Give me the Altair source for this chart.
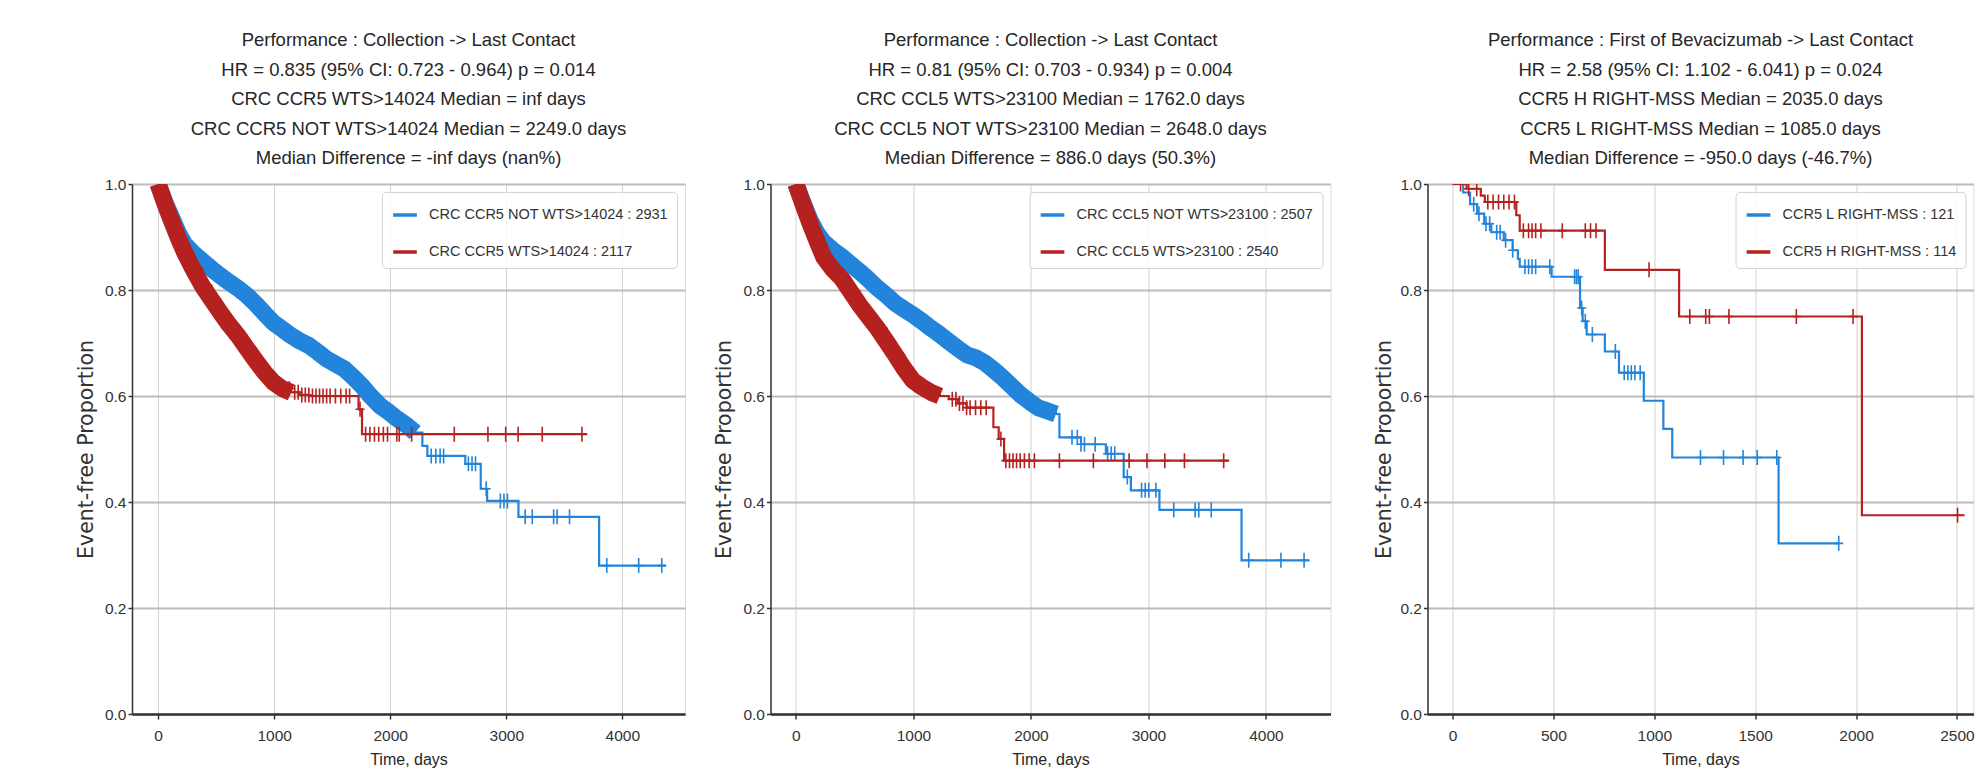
import altair as alt
import pandas as pd

BLUE = "#2284DA"
RED = "#B5211F"
SANS = "Liberation Sans"
YFONT = "DejaVu Sans"
TXT = "#262626"
PLUS = "M0,-1L0,1M-0.6,0L0.6,0"

# ---------------- Panel 1 ----------------
P1_TITLE = ["Performance : Collection -> Last Contact",
            "HR = 0.835 (95% CI: 0.723 - 0.964) p = 0.014",
            "CRC CCR5 WTS>14024 Median = inf days",
            "CRC CCR5 NOT WTS>14024 Median = 2249.0 days",
            "Median Difference = -inf days (nan%)"]
P1_BLUE_LABEL = "CRC CCR5 NOT WTS>14024 : 2931"
P1_RED_LABEL = "CRC CCR5 WTS>14024 : 2117"
P1_BLUE_T = [0, 60, 120, 180, 230, 300, 380, 460, 535, 610, 690, 765, 840, 920, 995, 1070, 1145, 1220,
             1300, 1375, 1450, 1530, 1605, 1680, 1757, 1830, 1910, 1985, 2060, 2140, 2215, 2277, 2320,
             2647, 2780, 2835, 3105, 3800, 4376]
P1_BLUE_S = [1.0, 0.965, 0.935, 0.905, 0.886, 0.87, 0.855, 0.84, 0.827, 0.815, 0.803, 0.79, 0.774, 0.755,
             0.738, 0.726, 0.714, 0.704, 0.695, 0.683, 0.67, 0.66, 0.651, 0.636, 0.619, 0.60, 0.582, 0.57,
             0.557, 0.545, 0.531, 0.506, 0.487, 0.472, 0.425, 0.402, 0.372, 0.28, 0.28]
P1_BLUE_BAND_END = 2250
P1_BLUE_CENS = [2353, 2393, 2430, 2460, 2674, 2705, 2735, 2827, 2949, 2980, 3010, 3163, 3224, 3408, 3438,
                3545, 3866, 4141, 4340]
P1_RED_T = [0, 60, 120, 180, 230, 300, 380, 460, 535, 610, 688, 765, 840, 915, 993, 1070, 1146, 1220,
            1300, 1727, 1757, 3698]
P1_RED_S = [1.0, 0.962, 0.928, 0.895, 0.87, 0.84, 0.808, 0.782, 0.758, 0.735, 0.714, 0.69, 0.667, 0.645,
            0.626, 0.614, 0.607, 0.602, 0.600, 0.575, 0.528, 0.528]
P1_RED_BAND_END = 1150
P1_RED_CENS = [1131, 1177, 1207, 1238, 1268, 1299, 1330, 1360, 1391, 1421, 1452, 1482, 1528, 1574, 1620,
               1650, 1740, 1788, 1825, 1864, 1901, 1941, 1977, 2057, 2078, 2185, 2552, 2842, 2995, 3102,
               3310, 3652]
P1_XDOM = [-225, 4540]
P1_XTICKS = [0, 1000, 2000, 3000, 4000]

# ---------------- Panel 2 ----------------
P2_TITLE = ["Performance : Collection -> Last Contact",
            "HR = 0.81 (95% CI: 0.703 - 0.934) p = 0.004",
            "CRC CCL5 WTS>23100 Median = 1762.0 days",
            "CRC CCL5 NOT WTS>23100 Median = 2648.0 days",
            "Median Difference = 886.0 days (50.3%)"]
P2_BLUE_LABEL = "CRC CCL5 NOT WTS>23100 : 2507"
P2_RED_LABEL = "CRC CCL5 WTS>23100 : 2540"
P2_BLUE_T = [0, 60, 120, 180, 237, 310, 389, 465, 541, 617, 693, 770, 845, 920, 997, 1073, 1149, 1225,
             1301, 1377, 1453, 1530, 1605, 1680, 1757, 1833, 1909, 1985, 2061, 2137, 2213, 2243, 2426,
             2638, 2790, 2851, 3094, 3793, 4371]
P2_BLUE_S = [1.0, 0.965, 0.932, 0.907, 0.89, 0.876, 0.863, 0.849, 0.835, 0.82, 0.804, 0.79, 0.775, 0.764,
             0.753, 0.741, 0.728, 0.716, 0.703, 0.69, 0.678, 0.672, 0.663, 0.65, 0.635, 0.619, 0.603, 0.59,
             0.578, 0.572, 0.566, 0.522, 0.509, 0.491, 0.447, 0.422, 0.385, 0.29, 0.29]
P2_BLUE_BAND_END = 2220
P2_BLUE_CENS = [2350, 2395, 2426, 2456, 2547, 2653, 2684, 2714, 2821, 2942, 2973, 3003, 3064, 3216, 3398,
                3429, 3535, 3854, 4128, 4325]
P2_RED_T = [0, 60, 120, 180, 237, 310, 389, 465, 541, 617, 693, 770, 845, 920, 997, 1073, 1149, 1225,
            1301, 1377, 1453, 1681, 1726, 1772, 3687]
P2_RED_S = [1.0, 0.962, 0.926, 0.892, 0.862, 0.84, 0.822, 0.797, 0.772, 0.75, 0.728, 0.703, 0.678, 0.652,
            0.629, 0.617, 0.607, 0.6, 0.594, 0.586, 0.578, 0.541, 0.519, 0.478, 0.478]
P2_RED_BAND_END = 1300
P2_RED_CENS = [1331, 1362, 1392, 1422, 1453, 1483, 1529, 1574, 1620, 1745, 1787, 1818, 1848, 1878, 1909,
               1945, 1985, 2030, 2243, 2532, 2836, 2988, 3140, 3307, 3641]
P2_XDOM = [-216, 4550]
P2_XTICKS = [0, 1000, 2000, 3000, 4000]

# ---------------- Panel 3 ----------------
P3_TITLE = ["Performance : First of Bevacizumab -> Last Contact",
            "HR = 2.58 (95% CI: 1.102 - 6.041) p = 0.024",
            "CCR5 H RIGHT-MSS Median = 2035.0 days",
            "CCR5 L RIGHT-MSS Median = 1085.0 days",
            "Median Difference = -950.0 days (-46.7%)"]
P3_BLUE_LABEL = "CCR5 L RIGHT-MSS : 121"
P3_RED_LABEL = "CCR5 H RIGHT-MSS : 114"
P3_BLUE_T = [0, 53, 87, 122, 157, 192, 254, 298, 324, 333, 491, 632, 645, 665, 755, 825, 948, 1045, 1089,
             1616, 1915]
P3_BLUE_S = [1.0, 0.984, 0.962, 0.944, 0.925, 0.909, 0.894, 0.875, 0.859, 0.844, 0.825, 0.766, 0.741,
             0.716, 0.684, 0.644, 0.591, 0.538, 0.484, 0.322, 0.322]
P3_BLUE_CENS = [105, 131, 166, 184, 219, 236, 263, 298, 359, 377, 394, 412, 482, 605, 614, 623, 640, 658,
                693, 807, 851, 869, 886, 904, 930, 1229, 1343, 1440, 1510, 1607, 1914]
P3_RED_T = [0, 70, 140, 160, 316, 333, 755, 1123, 2029, 2538]
P3_RED_S = [1.0, 0.991, 0.978, 0.966, 0.941, 0.912, 0.838, 0.75, 0.375, 0.375]
P3_RED_CENS = [40, 80, 120, 175, 201, 228, 254, 280, 307, 351, 377, 394, 412, 438, 544, 658, 684, 711, 974,
               1176, 1255, 1273, 1370, 1704, 1985, 2503]
P3_XDOM = [-124, 2582]
P3_XTICKS = [0, 500, 1000, 1500, 2000, 2500]

Y_TICKS = [0.0, 0.2, 0.4, 0.6, 0.8, 1.0]
PLOT_H = 530


def surv_at(ts, ss, t):
    v = ss[0]
    for ti, si in zip(ts, ss):
        if ti <= t:
            v = si
    return v


def panel(title, xdom, xticks, width, ytitle_x, blue, red):
    labels = [blue[0], red[0]]
    cscale = alt.Scale(domain=labels, range=[BLUE, RED])
    xenc = alt.X("t:Q", scale=alt.Scale(domain=xdom, nice=False, zero=False),
                 axis=alt.Axis(values=xticks, format="d", title="Time, days",
                               grid=True, gridColor="#d2d2d2", gridWidth=1,
                               domainColor="#333", domainWidth=2.5,
                               tickColor="#333", tickSize=5, tickWidth=1.5,
                               labelFont=SANS, labelFontSize=15.5, labelColor="#333", labelPadding=9,
                               titleFont=SANS, titleFontSize=16, titleFontWeight="normal",
                               titleColor=TXT, titlePadding=8))
    yenc = alt.Y("s:Q", scale=alt.Scale(domain=[0, 1], nice=False, zero=False),
                 axis=alt.Axis(values=Y_TICKS, format=".1f", title="Event-free Proportion",
                               grid=True, gridColor="#bcbcbc", gridWidth=2,
                               domainColor="#333", domainWidth=1.5,
                               tickColor="#333", tickSize=4, tickWidth=1.5,
                               labelFont=SANS, labelFontSize=15.5, labelColor="#333", labelPadding=2,
                               titleFont=YFONT, titleFontSize=20.5, titleFontWeight="normal",
                               titleColor="#333", titleX=ytitle_x, titleY=PLOT_H / 2,
                               titleAlign="center", titleBaseline="middle", titleAngle=270))
    layers = []
    for idx, (label, ts, ss, band_end, cens) in enumerate([blue, red]):
        steps = pd.DataFrame({"t": ts, "s": ss, "g": label})
        leg = None
        if idx == 0:
            leg = alt.Legend(orient="top-right", title=None, symbolType="stroke", symbolStrokeWidth=3.5,
                             symbolSize=560, labelFont=SANS, labelFontSize=14.5, labelColor="#333",
                             labelLimit=500, padding=9, rowPadding=16, offset=8, labelOffset=10,
                             fillColor="rgba(255,255,255,0.85)", strokeColor="#d4d4d4", cornerRadius=4)
        layers.append(alt.Chart(steps).mark_line(strokeWidth=2.2, interpolate="step-after", clip=True).encode(
            x=xenc, y=yenc, color=alt.Color("g:N", scale=cscale, legend=leg)))
        if band_end is not None:
            band = steps[steps["t"] <= band_end]
            layers.append(alt.Chart(band).mark_line(strokeWidth=17, strokeJoin="round", clip=True,
                                                    interpolate="linear").encode(
                x=xenc, y=yenc, color=alt.Color("g:N", scale=cscale, legend=None)))
        cdf = pd.DataFrame({"t": cens, "s": [surv_at(ts, ss, c) for c in cens], "g": label})
        layers.append(alt.Chart(cdf).mark_point(shape=PLUS, filled=False, size=225, strokeWidth=1.6,
                                                opacity=1, clip=True).encode(
            x=xenc, y=yenc, color=alt.Color("g:N", scale=cscale, legend=None)))
    return alt.layer(*layers).properties(
        width=width, height=PLOT_H,
        title=alt.TitleParams(text=title, font=SANS, fontSize=18.5, lineHeight=29.5, fontWeight="normal",
                              color=TXT, anchor="middle", offset=9.5))


p1 = panel(P1_TITLE, P1_XDOM, P1_XTICKS, 553, -46,
           (P1_BLUE_LABEL, P1_BLUE_T, P1_BLUE_S, P1_BLUE_BAND_END, P1_BLUE_CENS),
           (P1_RED_LABEL, P1_RED_T, P1_RED_S, P1_RED_BAND_END, P1_RED_CENS))
p2 = panel(P2_TITLE, P2_XDOM, P2_XTICKS, 560, -46,
           (P2_BLUE_LABEL, P2_BLUE_T, P2_BLUE_S, P2_BLUE_BAND_END, P2_BLUE_CENS),
           (P2_RED_LABEL, P2_RED_T, P2_RED_S, P2_RED_BAND_END, P2_RED_CENS))
p3 = panel(P3_TITLE, P3_XDOM, P3_XTICKS, 546, -43,
           (P3_BLUE_LABEL, P3_BLUE_T, P3_BLUE_S, None, P3_BLUE_CENS),
           (P3_RED_LABEL, P3_RED_T, P3_RED_S, None, P3_RED_CENS))

inner = alt.hconcat(p1, p2, spacing=27.5).resolve_scale(color="independent", x="independent")
chart = alt.hconcat(inner, p3, spacing=42.5).resolve_scale(color="independent", x="independent").properties(
    padding={"left": 67, "top": 22, "right": 0, "bottom": 0}
).configure_view(stroke="#555", strokeWidth=1.5).configure(background="white")

chart.save("out.html", embed_options={"renderer": "svg", "actions": False})
